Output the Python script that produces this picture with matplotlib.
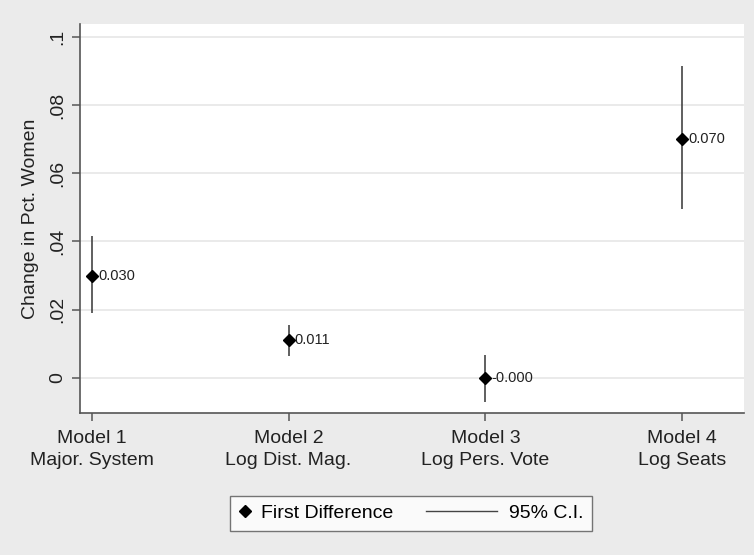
import matplotlib.pyplot as plt
from matplotlib.lines import Line2D
from matplotlib.legend_handler import HandlerLine2D

plt.rcParams['font.family'] = ['Liberation Sans', 'DejaVu Sans']

# First differences with 95% confidence intervals
models = ["Model 1\nMajor. System", "Model 2\nLog Dist. Mag.",
          "Model 3\nLog Pers. Vote", "Model 4\nLog Seats"]
first_diff = [0.030, 0.011, -0.0001, 0.070]
ci_low = [0.019, 0.0065, -0.007, 0.0495]
ci_high = [0.0415, 0.0155, 0.0068, 0.0915]
labels = ["0.030", "0.011", "-0.000", "0.070"]

yticks = [0, 0.02, 0.04, 0.06, 0.08, 0.1]
yticklabels = ["0", ".02", ".04", ".06", ".08", ".1"]

bg = "#ebebeb"
axis_col = "#555555"
txt_col = "#222222"


class LongLineHandler(HandlerLine2D):
    # legend sample for the CI: a longer line reaching back into the column gap
    def create_artists(self, legend, orig_handle, xdescent, ydescent,
                       width, height, fontsize, trans):
        y = height / 2 - ydescent
        line = Line2D([-xdescent - 4.45 * width, -xdescent + 0.75 * width], [y, y],
                      color=orig_handle.get_color(),
                      lw=orig_handle.get_linewidth(), transform=trans)
        return [line]


fig = plt.figure(figsize=(7.54, 5.55), dpi=100, facecolor=bg)
ax = fig.add_axes([0.106, 0.256, 0.881, 0.701])
ax.set_facecolor("white")

x = list(range(1, len(models) + 1))

# confidence interval spikes
ax.vlines(x, ci_low, ci_high, color="#444444", lw=1.2, zorder=2)
# point estimates
ax.plot(x, first_diff, ls="none", marker="D", ms=5.8, color="black", zorder=3)
for xi, yi, lab in zip(x, first_diff, labels):
    ax.annotate(lab, (xi, yi), xytext=(4.5, 0), textcoords="offset points",
                va="center", ha="left", fontsize=10.5, color=txt_col)

ax.set_xlim(0.94, 4.315)
ax.set_ylim(-0.0103, 0.1038)
ax.set_xticks(x)
ax.set_xticklabels(models, fontsize=14, color=txt_col, linespacing=1.45)
ax.set_yticks(yticks)
ax.set_yticklabels(yticklabels, fontsize=14, color=txt_col,
                   rotation=90, va="center")
ax.set_ylabel("Change in Pct. Women", fontsize=14, color=txt_col, labelpad=8)

ax.grid(axis="y", color="#e6e6e6", lw=1.2)
ax.set_axisbelow(True)
for side in ["top", "right"]:
    ax.spines[side].set_visible(False)
for side in ["left", "bottom"]:
    ax.spines[side].set_color(axis_col)
    ax.spines[side].set_linewidth(1.2)
ax.tick_params(axis="both", direction="out", length=6, width=1.1,
               color=axis_col)
ax.tick_params(axis="x", pad=6)

diamond = Line2D([], [], ls="none", marker="D", ms=5.8, color="black")
ci_line = Line2D([], [], color="#444444", lw=1.0)
leg = fig.legend([diamond, ci_line], ["First Difference", "95% C.I."], ncol=2,
                 loc="center", bbox_to_anchor=(0.545, 0.075), fontsize=14,
                 frameon=True, fancybox=False, edgecolor="#555555",
                 handlelength=0.7, handletextpad=0.45, columnspacing=4.8,
                 borderpad=0.45, handler_map={ci_line: LongLineHandler()})
leg.get_frame().set_linewidth(1.0)

fig.savefig("out.png", dpi=100, facecolor=bg)
